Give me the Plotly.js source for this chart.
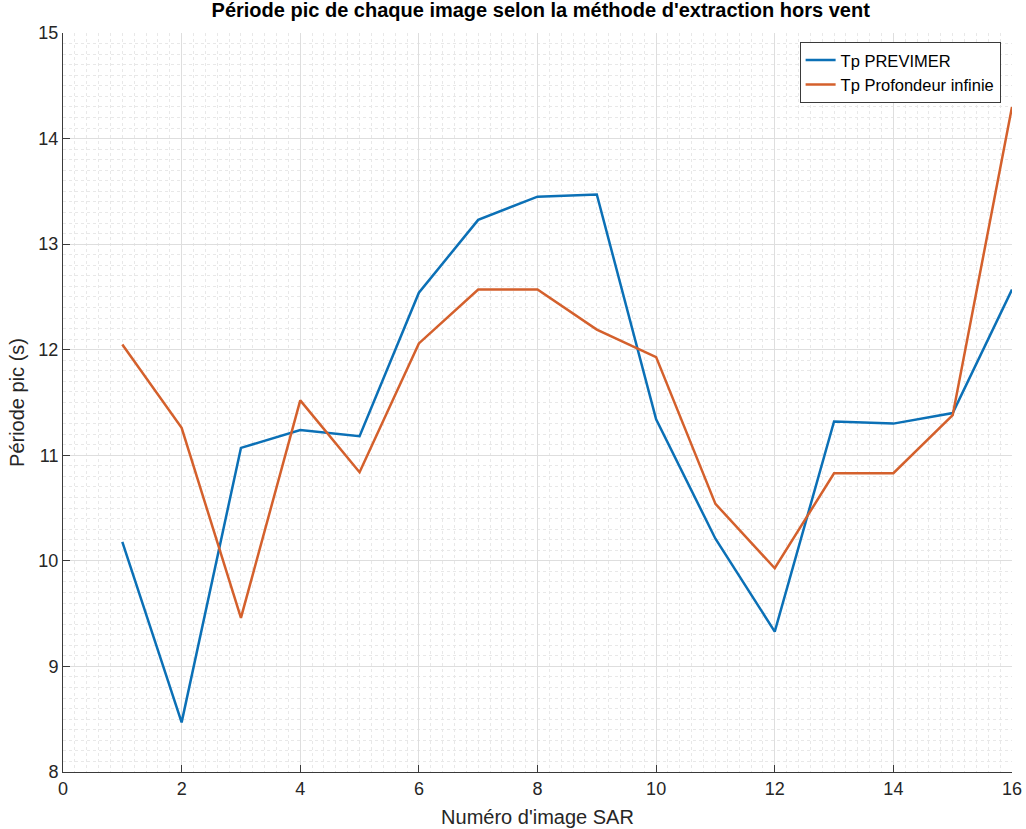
<!DOCTYPE html>
<html>
<head>
<meta charset="utf-8">
<script src="https://cdn.plot.ly/plotly-3.0.1.min.js"></script>
<style>html,body{margin:0;padding:0;background:#fff;}#chart{width:1026px;height:829px;}</style>
</head>
<body>
<div id="chart"></div>
<script>
const imageNumbers = [1,2,3,4,5,6,7,8,9,10,11,12,13,14,15,16];
const tpPrevimer = [10.18,8.47,11.07,11.24,11.18,12.54,13.23,13.45,13.47,11.34,10.21,9.33,11.32,11.30,11.40,12.57];
const tpProfondeurInfinie = [12.05,11.26,9.46,11.52,10.84,12.06,12.57,12.57,12.19,11.93,10.54,9.93,10.83,10.83,11.38,14.30];
const seriesNames = ['Tp PREVIMER','Tp Profondeur infinie'];

const font = 'Liberation Sans, Arial, Helvetica, sans-serif';
const traces = [
  {x: imageNumbers, y: tpPrevimer, name: seriesNames[0], mode: 'lines', line: {color: '#0b70b6', width: 2.5}},
  {x: imageNumbers, y: tpProfondeurInfinie, name: seriesNames[1], mode: 'lines', line: {color: '#d4602c', width: 2.5}}
];
const axisCommon = {
  showline: true, linecolor: '#3a3a3a', linewidth: 1, mirror: false,
  ticks: 'inside', ticklen: 7, tickcolor: '#3a3a3a', tickwidth: 1,
  showgrid: true, gridcolor: '#dedede', gridwidth: 1,
  zeroline: false,
  tickfont: {family: font, size: 18, color: '#262626'}
};
const layout = {
  width: 1026, height: 829,
  margin: {l: 63, r: 14, t: 33, b: 57},
  paper_bgcolor: '#ffffff', plot_bgcolor: '#ffffff',
  title: {text: "<b>Période pic de chaque image selon la méthode d'extraction hors vent</b>", font: {family: font, size: 20, color: '#000'}, x: 0.527, xanchor: 'center', y: 0.996, yanchor: 'top'},
  xaxis: Object.assign({}, axisCommon, {
    range: [0, 16], dtick: 2, tick0: 0,
    minor: {dtick: 0.2, showgrid: true, gridcolor: '#e8e8e8', griddash: 'dot', gridwidth: 1, ticks: ''},
    title: {text: "Numéro d'image SAR", font: {family: font, size: 20, color: '#262626'}, standoff: 12}
  }),
  yaxis: Object.assign({}, axisCommon, {
    range: [8, 15], dtick: 1, tick0: 8,
    minor: {dtick: 0.1, showgrid: true, gridcolor: '#e8e8e8', griddash: 'dot', gridwidth: 1, ticks: ''},
    title: {text: 'Période pic (s)', font: {family: font, size: 20, color: '#262626'}, standoff: 8}
  }),
  legend: {
    x: 0.988, xanchor: 'right', y: 0.988, yanchor: 'top',
    bgcolor: '#ffffff', bordercolor: '#3a3a3a', borderwidth: 1,
    font: {family: font, size: 16.5, color: '#000'},
    tracegroupgap: 0
  },
  showlegend: true
};
Plotly.newPlot('chart', traces, layout, {displayModeBar: false, staticPlot: true});
</script>
</body>
</html>
